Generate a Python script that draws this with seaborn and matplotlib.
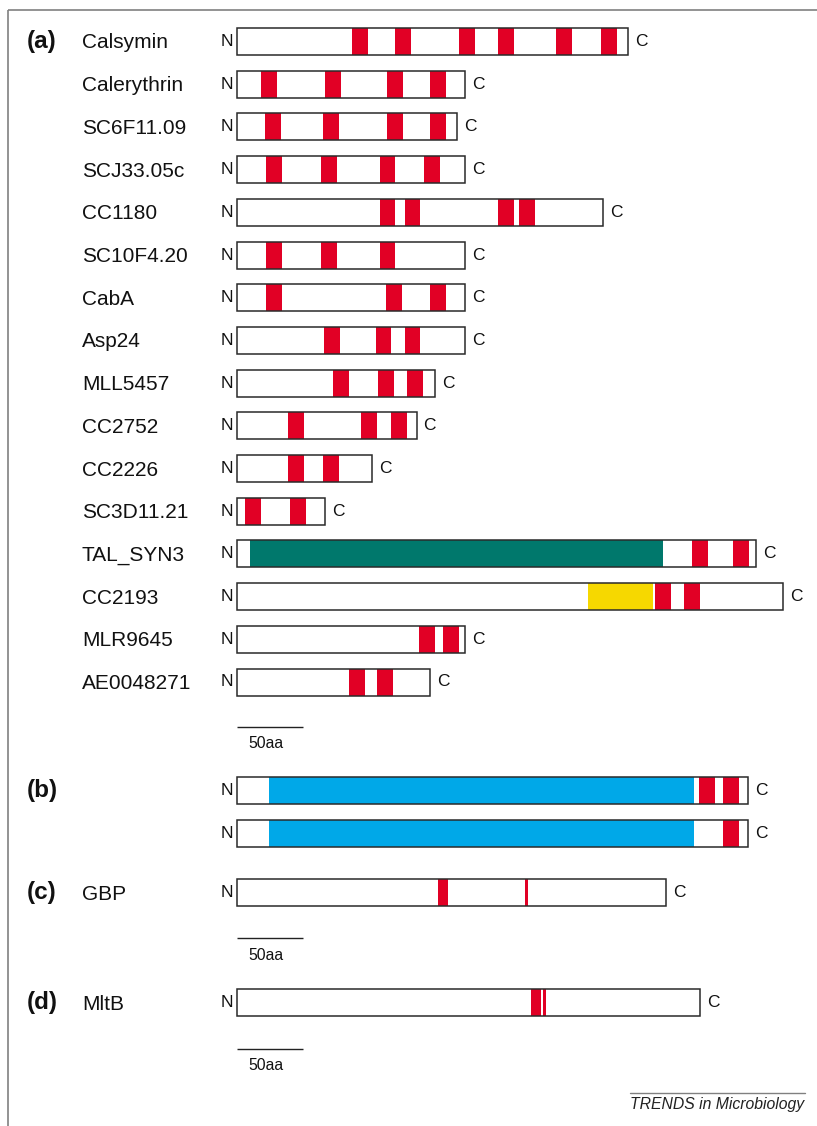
import matplotlib
matplotlib.use("Agg")
import matplotlib.pyplot as plt
import seaborn as sns

# ---------------- data (lengths and motif starts in amino acids) ----------------
names_a = ["Calsymin", "Calerythrin", "SC6F11.09", "SCJ33.05c", "CC1180",
           "SC10F4.20", "CabA", "Asp24", "MLL5457", "CC2752", "CC2226",
           "SC3D11.21", "TAL_SYN3", "CC2193", "MLR9645", "AE0048271"]
lengths_a = [296, 173, 167, 173, 277, 173, 173, 173, 150, 136, 102, 67,
             393, 414, 173, 146]
ef_starts_a = [
    [87, 120, 168, 198, 242, 276],
    [18, 67, 114, 146],
    [21, 65, 114, 146],
    [22, 64, 108, 142],
    [108, 127, 198, 214],
    [22, 64, 108],
    [22, 113, 146],
    [66, 105, 127],
    [73, 107, 129],
    [39, 94, 117],
    [39, 65],
    [6, 40],
    [345, 376],
    [317, 339],
    [138, 156],
    [85, 106],
]
EF_LEN = 12
# extra domains in panel (a): (protein, start, end)
tal_domain = ("TAL_SYN3", 10, 323)
cc2193_domain = ("CC2193", 266, 315)

# panel (b): two proteins with a large N-terminal domain
lengths_b = [387, 387]
blue_domain_b = (24, 346)
ef_starts_b = [[350, 368], [368]]

# panel (c) GBP and (d) MltB: (start, width) of motif segments
gbp_length = 325
gbp_segments = [(152, 7.5), (218, 2.3)]
mltb_length = 351
mltb_segments = [(223, 7.5), (232, 2.3)]

SCALE_AA = 50

# ---------------- style ----------------
RED = "#E10025"
TEAL = "#00786C"
YELLOW = "#F6D800"
BLUE = "#00A8E8"
EDGE = "#2a2a2a"
FRAME = "#808080"
TXT = "#111111"

sns.set_theme(style="white")
plt.rcParams["font.family"] = ["Liberation Sans", "DejaVu Sans"]

W_PX, H_PX, DPI = 817, 1126, 100
X0_PX = 237            # pixel column where every sequence starts
PX_PER_AA = 66 / 50    # drawing scale
BAR_H = 27

fig = plt.figure(figsize=(W_PX / DPI, H_PX / DPI), dpi=DPI)
ax = fig.add_axes([0, 0, 1, 1])
ax.set_xlim(-X0_PX / PX_PER_AA, (W_PX - X0_PX) / PX_PER_AA)
ax.set_ylim(H_PX, 0)
ax.axis("off")


def px(xp):
    """Convert a horizontal pixel position into sequence units."""
    return (xp - X0_PX) / PX_PER_AA


def draw_protein(y, length, segments, c_gap=7):
    ax.barh(y, length, left=0, height=BAR_H, color="white", lw=0, zorder=1)
    for start, width, color in segments:
        ax.barh(y, width, left=start, height=BAR_H, color=color, lw=0, zorder=2)
    ax.barh(y, length, left=0, height=BAR_H, fill=False, edgecolor=EDGE,
            lw=1.1, zorder=3)
    ax.text(px(233.5), y, "N", ha="right", va="center", fontsize=12.5, color=TXT)
    ax.text(length + c_gap / PX_PER_AA, y, "C", ha="left", va="center",
            fontsize=12.5, color=TXT)


def scale_bar(y):
    ax.plot([0, SCALE_AA], [y, y], color="#222222", lw=1.0, solid_capstyle="butt")
    ax.text(px(248), y + 17, f"{SCALE_AA}aa", ha="left", va="center",
            fontsize=11.3, color=TXT)


NAME_X = px(82)
PANEL_X = px(27)
NAME_FS = 15
PANEL_FS = 17.5

# ---------------- panel (a) ----------------
row_top, row_pitch = 41.5, 42.7
for i, (name, length, starts) in enumerate(zip(names_a, lengths_a, ef_starts_a)):
    y = row_top + i * row_pitch
    segs = []
    for dom, color in ((tal_domain, TEAL), (cc2193_domain, YELLOW)):
        if dom[0] == name:
            segs.append((dom[1], dom[2] - dom[1], color))
    segs += [(s, EF_LEN, RED) for s in starts]
    draw_protein(y, length, segs)
    ax.text(NAME_X, y + 1.5, name, ha="left", va="center", fontsize=NAME_FS,
            color=TXT)
ax.text(PANEL_X, row_top, "(a)", ha="left", va="center", fontsize=PANEL_FS,
        fontweight="bold", color=TXT)
scale_bar(727)

# ---------------- panel (b) ----------------
b_rows = [790.5, 833]
for y, length, starts in zip(b_rows, lengths_b, ef_starts_b):
    segs = [(blue_domain_b[0], blue_domain_b[1] - blue_domain_b[0], BLUE)]
    segs += [(s, EF_LEN, RED) for s in starts]
    draw_protein(y, length, segs)
ax.text(PANEL_X, b_rows[0], "(b)", ha="left", va="center", fontsize=PANEL_FS,
        fontweight="bold", color=TXT)

# ---------------- panel (c) ----------------
y_c = 892.5
draw_protein(y_c, gbp_length, [(s, w, RED) for s, w in gbp_segments])
ax.text(PANEL_X, y_c, "(c)", ha="left", va="center", fontsize=PANEL_FS,
        fontweight="bold", color=TXT)
ax.text(NAME_X, y_c + 1.5, "GBP", ha="left", va="center", fontsize=NAME_FS,
        color=TXT)
scale_bar(938)

# ---------------- panel (d) ----------------
y_d = 1002.5
draw_protein(y_d, mltb_length, [(s, w, RED) for s, w in mltb_segments])
ax.text(PANEL_X, y_d, "(d)", ha="left", va="center", fontsize=PANEL_FS,
        fontweight="bold", color=TXT)
ax.text(NAME_X, y_d + 1.5, "MltB", ha="left", va="center", fontsize=NAME_FS,
        color=TXT)
scale_bar(1049)

# ---------------- frame and journal tag ----------------
ax.plot([px(8), px(8)], [H_PX, 10], color=FRAME, lw=1.2, solid_capstyle="butt")
ax.plot([px(8), px(W_PX)], [10, 10], color=FRAME, lw=1.2, solid_capstyle="butt")
ax.plot([px(630), px(805)], [1093, 1093], color=FRAME, lw=1.0)
ax.text(px(804), 1105, "TRENDS in Microbiology", ha="right", va="center",
        fontsize=11.3, style="italic", color="#222222")

fig.savefig("out.png", dpi=DPI)
